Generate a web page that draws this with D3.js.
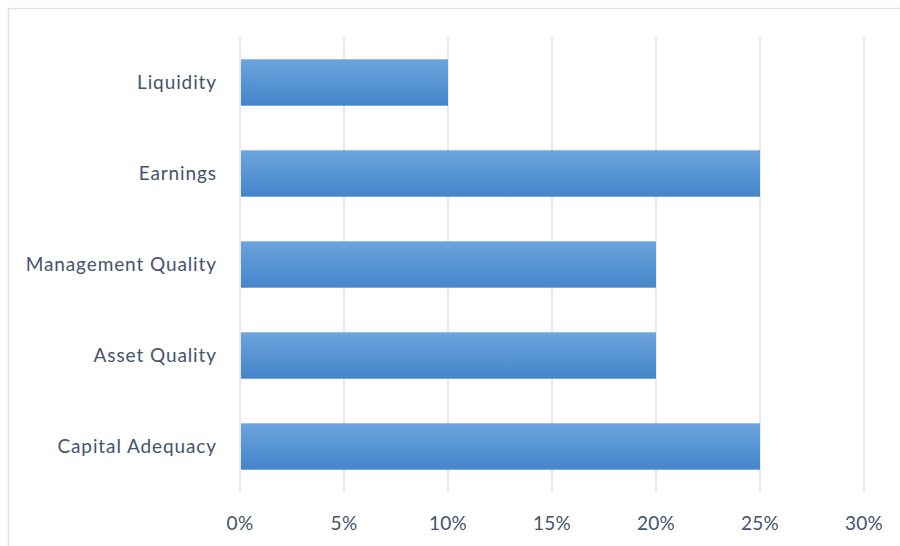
<!DOCTYPE html>
<html><head><meta charset="utf-8">
<script src="https://cdn.jsdelivr.net/npm/d3@7"></script>
<style>body{margin:0;background:#fff}</style>
</head><body>
<svg id="c" width="900" height="546"></svg>
<script>
const categories = ["Liquidity","Earnings","Management Quality","Asset Quality","Capital Adequacy"];
const values = [0.10,0.25,0.20,0.20,0.25];
const ticks = [0,0.05,0.10,0.15,0.20,0.25,0.30];

const svg = d3.select("#c");
const defs = svg.append("defs");
const g = defs.append("linearGradient").attr("id","bg").attr("x1",0).attr("y1",0).attr("x2",0).attr("y2",1);
g.append("stop").attr("offset","0%").attr("stop-color","#6ca4de");
g.append("stop").attr("offset","100%").attr("stop-color","#4485c9");

svg.append("rect").attr("x",8.5).attr("y",8.5).attr("width",900).attr("height",560)
  .attr("fill","#fff").attr("stroke","#dfe3ea").attr("stroke-width",1.5);

const x = d3.scaleLinear().domain([0,0.30]).range([240,864]);
const y = d3.scaleBand().domain(categories).range([37,492]).paddingInner(0.49).paddingOuter(0.245);

svg.append("g").selectAll("line").data(ticks).join("line")
  .attr("x1",d=>x(d)).attr("x2",d=>x(d)).attr("y1",37).attr("y2",492)
  .attr("stroke","#dde1e9").attr("stroke-width",1.5);

svg.append("g").selectAll("rect").data(categories).join("rect")
  .attr("x",x(0)+1).attr("y",d=>y(d)).attr("height",y.bandwidth())
  .attr("width",(d,i)=>x(values[i])-x(0)-1).attr("fill","url(#bg)");

const font = "Lato, 'Open Sans', sans-serif";
svg.append("g").selectAll("text").data(categories).join("text")
  .attr("x",217).attr("y",d=>y(d)+y.bandwidth()/2).attr("dy","0.35em")
  .attr("text-anchor","end").attr("font-family",font).attr("font-size",19)
  .attr("letter-spacing","0.9px")
  .attr("fill","#44546a").text(d=>d);

const fmt = d3.format(".0%");
svg.append("g").selectAll("text").data(ticks).join("text")
  .attr("x",d=>x(d)).attr("y",523).attr("dy","0.35em")
  .attr("text-anchor","middle").attr("font-family",font).attr("font-size",19)
  .attr("letter-spacing","0.3px")
  .attr("fill","#44546a").text(d=>fmt(d));
</script>
</body></html>
